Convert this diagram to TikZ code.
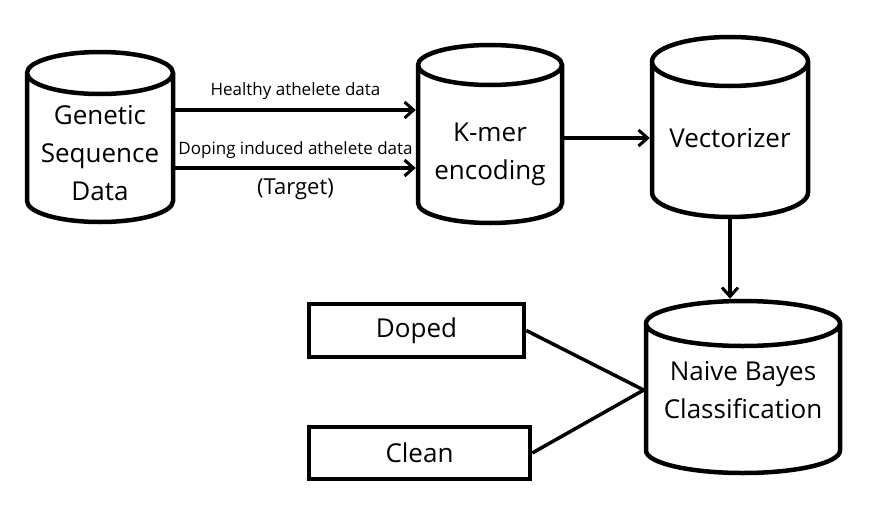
\documentclass[tikz,border=0pt]{standalone}
\usepackage{fontspec}
\setmainfont{Open Sans}
\usetikzlibrary{shapes.geometric,arrows.meta}

\begin{document}
\begin{tikzpicture}[x=1pt, y=-1pt,
  db/.style={cylinder, shape border rotate=90, draw, line width=4.5pt, aspect=0.42,
    anchor=shape center, inner sep=0pt, text width=100pt},
  dbtext/.style={align=center, anchor=center, font=\fontsize{26}{38}\selectfont},
  outbox/.style={draw, rectangle, line width=4.5pt, font=\fontsize{26}{30}\selectfont},
  flow/.style={->, line width=3.5pt, >={Straight Barb[length=9pt, width=16pt, line width=3pt]}},
  link/.style={line width=3.5pt},
  small/.style={font=\fontsize{17}{20}\selectfont}]
  \useasboundingbox (0,0) rectangle (872,506);
  \node[db, minimum width=146pt, minimum height=170pt,
    label={[dbtext, yshift=70.75pt]south:Genetic\\Sequence\\Data}] (gsd) at (100,137) {};
  \node[db, aspect=0.40, minimum width=144pt, minimum height=178pt,
    label={[dbtext, yshift=71pt]south:K-mer\\encoding}] (kmer) at (490,134) {};
  \node[db, aspect=0.49, minimum width=156pt, minimum height=180pt,
    label={[dbtext, yshift=80.75pt]south:Vectorizer}] (vec) at (730,127) {};
  \node[db, aspect=0.45, minimum width=194pt, minimum height=172pt,
    label={[dbtext, yshift=84.75pt]south:Naive Bayes\\Classification}] (nb) at (743,387) {};
  \node[outbox, minimum width=215pt, minimum height=53pt] (doped) at (416.5,330.5) {Doped};
  \node[outbox, minimum width=221pt, minimum height=52pt] (clean) at (419.5,453) {Clean};
  % input data
  \draw[flow] (gsd.east |- 0,110) -- (kmer.west |- 0,110)
    node[small, midway, above=5pt] {Healthy athelete data};
  \draw[flow] (gsd.east |- 0,168) -- (kmer.west |- 0,168)
    node[small, midway, above=4pt] {Doping induced athelete data}
    node[midway, below=6pt, font=\fontsize{22}{26}\selectfont] {(Target)};
  \draw[flow] (kmer.east |- 0,138) -- (vec.west |- 0,138);
  \draw[flow] (vec.south) -- (vec.south |- nb.north);
  % outputs
  \draw[link] (doped.east) -- (nb.west |- 0,390);
  \draw[link] (clean.east) -- (nb.west |- 0,390);
\end{tikzpicture}
\end{document}
